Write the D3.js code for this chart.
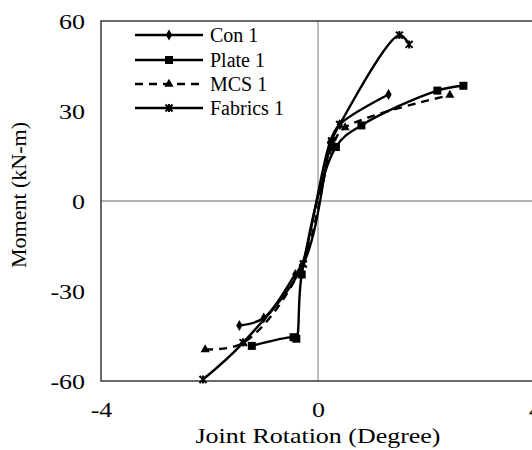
<!DOCTYPE html>
<html>
<head>
<meta charset="utf-8">
<script src="https://cdn.jsdelivr.net/npm/d3@7"></script>
<style>
  html, body { margin: 0; padding: 0; background: #fff; }
  svg { display: block; }
  text { font-family: "Liberation Serif", "Times New Roman", serif; fill: #000; }
</style>
</head>
<body>
<svg id="chart" width="532" height="450"></svg>
<script>
// Joint rotation (degree) vs moment (kN-m) for each specimen
const conRot = [-1.45, -1.0, -0.42, -0.3, 0.22, 0.4, 1.3];
const conMom = [-41.5, -39, -24.5, -21.5, 19.5, 25.5, 35.5];

const plateRot = [-1.22, -0.45, -0.4, -0.3, 0.33, 0.8, 2.2, 2.68];
const plateMom = [-48.3, -45.4, -45.9, -24.5, 18, 25.2, 36.8, 38.4];

const mcsRot = [-2.08, -1.38, -0.33, 0.28, 0.5, 2.43];
const mcsMom = [-49.5, -47.3, -23, 19, 24.5, 35.3];

const fabRot = [-2.12, -1.38, -0.27, 0.25, 0.4, 1.5, 1.68];
const fabMom = [-59.5, -47.2, -21, 20, 25.5, 55.3, 52.2];

const seriesNames = ["Con 1", "Plate 1", "MCS 1", "Fabrics 1"];
const xTicks = [-4, 0, 4];
const yTicks = [-60, -30, 0, 30, 60];

const series = [
  { name: seriesNames[0], xs: conRot, ys: conMom, marker: "diamond", dash: null },
  { name: seriesNames[1], xs: plateRot, ys: plateMom, marker: "square", dash: null },
  { name: seriesNames[2], xs: mcsRot, ys: mcsMom, marker: "triangle", dash: "8,6" },
  { name: seriesNames[3], xs: fabRot, ys: fabMom, marker: "star", dash: null }
];

const svg = d3.select("#chart");
const pLeft = 101, pTop = 21, pBottom = 381, pRight = 535;

const x = d3.scaleLinear().domain([-4, 4]).range([pLeft, pRight]);
const y = d3.scaleLinear().domain([-60, 60]).range([pBottom, pTop]);

// Axis text is drawn slightly wide
const stretch = 1.18;
const plainNum = d => String(d);

// zero reference lines
svg.append("line")
  .attr("x1", x(0)).attr("x2", x(0)).attr("y1", pTop).attr("y2", pBottom)
  .attr("stroke", "#9a9a9a").attr("stroke-width", 1.3);
svg.append("line")
  .attr("x1", pLeft).attr("x2", pRight).attr("y1", y(0)).attr("y2", y(0))
  .attr("stroke", "#9a9a9a").attr("stroke-width", 1.3);

// plot frame
svg.append("rect")
  .attr("x", pLeft).attr("y", pTop)
  .attr("width", pRight - pLeft).attr("height", pBottom - pTop)
  .attr("fill", "none").attr("stroke", "#2a2a2a").attr("stroke-width", 1.4);

// axes
const yAxis = svg.append("g")
  .attr("transform", `translate(${pLeft},0)`)
  .call(d3.axisLeft(y).tickValues(yTicks).tickSize(0).tickPadding(0).tickFormat(plainNum));
yAxis.select(".domain").remove();
yAxis.attr("font-family", null);
yAxis.selectAll("text")
  .attr("x", 0).attr("dy", "0.36em")
  .attr("font-size", 22)
  .attr("text-anchor", "end")
  .attr("transform", `translate(-16,0) scale(${stretch},1)`);

const xAxis = svg.append("g")
  .attr("transform", `translate(0,${pBottom})`)
  .call(d3.axisBottom(x).tickValues(xTicks).tickSize(0).tickPadding(0).tickFormat(plainNum));
xAxis.select(".domain").remove();
xAxis.attr("font-family", null);
xAxis.selectAll("text")
  .attr("y", 0).attr("dy", 0)
  .attr("font-size", 22)
  .attr("transform", `translate(0,36) scale(${stretch},1)`);

// axis titles
svg.append("text")
  .attr("transform", `translate(${(pLeft + pRight) / 2},443) scale(${stretch},1)`)
  .attr("text-anchor", "middle")
  .attr("font-size", 22)
  .text("Joint Rotation (Degree)");

svg.append("text")
  .attr("transform", `translate(26,${y(0) - 6}) rotate(-90)`)
  .attr("text-anchor", "middle")
  .attr("font-size", 22)
  .text("Moment (kN-m)");

// marker shapes
function drawMarker(g, type, cx, cy) {
  if (type === "diamond") {
    g.append("path").attr("d", d3.symbol(d3.symbolDiamond, 34)())
      .attr("transform", `translate(${cx},${cy})`).attr("fill", "#000");
  } else if (type === "square") {
    g.append("rect").attr("x", cx - 4).attr("y", cy - 4).attr("width", 8).attr("height", 8)
      .attr("fill", "#000");
  } else if (type === "triangle") {
    g.append("path").attr("d", d3.symbol(d3.symbolTriangle, 36)())
      .attr("transform", `translate(${cx},${cy})`).attr("fill", "#000");
  } else {
    g.append("path")
      .attr("d", `M${cx - 3.5},${cy - 3.5}L${cx + 3.5},${cy + 3.5}M${cx - 3.5},${cy + 3.5}L${cx + 3.5},${cy - 3.5}M${cx},${cy - 4}L${cx},${cy + 4}`)
      .attr("stroke", "#000").attr("stroke-width", 2);
  }
}

const line = d3.line()
  .x(d => x(d[0]))
  .y(d => y(d[1]))
  .curve(d3.curveCatmullRom.alpha(0.5));

const plot = svg.append("g");
series.forEach(s => {
  const pts = s.xs.map((v, i) => [v, s.ys[i]]);
  plot.append("path")
    .datum(pts)
    .attr("d", line)
    .attr("fill", "none")
    .attr("stroke", "#000")
    .attr("stroke-width", 2.4)
    .attr("stroke-dasharray", s.dash);
  const mg = plot.append("g");
  pts.forEach(p => drawMarker(mg, s.marker, x(p[0]), y(p[1])));
});

// legend
const legend = svg.append("g");
const legY = [35, 60, 84, 108];
series.forEach((s, i) => {
  const ly = legY[i];
  legend.append("line")
    .attr("x1", 135).attr("x2", 203).attr("y1", ly).attr("y2", ly)
    .attr("stroke", "#000").attr("stroke-width", 2.4)
    .attr("stroke-dasharray", s.dash);
  drawMarker(legend, s.marker, 169, ly);
  legend.append("text")
    .attr("x", 210).attr("y", ly + 7)
    .attr("font-size", 20)
    .text(s.name);
});
</script>
</body>
</html>
